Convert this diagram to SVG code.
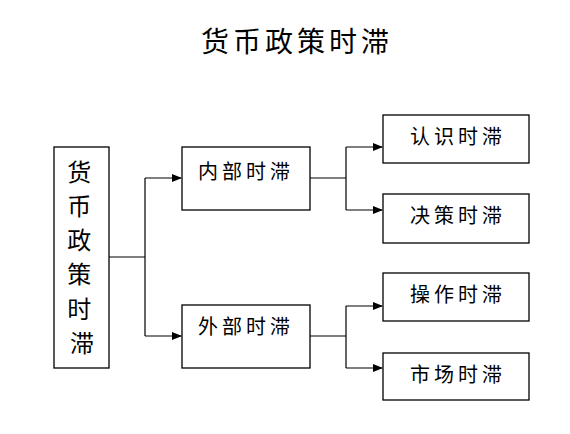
<svg xmlns="http://www.w3.org/2000/svg" width="570" height="434" viewBox="0 0 570 434">
<style>
.box{fill:#fff;stroke:#000;stroke-width:1.3}
.t{font-family:"Noto Sans CJK SC","Noto Sans CJK JP",sans-serif;fill:#000}
.lbl{font-size:20px;letter-spacing:4px}
.ln{fill:none;stroke:#000;stroke-width:1.2}
</style>
<defs>
<marker id="ah" markerWidth="10" markerHeight="8" refX="9" refY="4" orient="auto" markerUnits="userSpaceOnUse">
<path d="M0,0 L10,4 L0,8 z" fill="#000"/>
</marker>
</defs>
<rect width="570" height="434" fill="#fff"/>
<text class="t" x="297" y="52" font-size="28" text-anchor="middle" letter-spacing="4">货币政策时滞</text>
<g id="connectors">
<path class="ln" d="M109,257 H145 M145,178 V336"/>
<path class="ln" d="M145,178 H181" marker-end="url(#ah)"/>
<path class="ln" d="M145,336 H181" marker-end="url(#ah)"/>
<path class="ln" d="M310,178 H346 M346,147 V210"/>
<path class="ln" d="M346,147 H382" marker-end="url(#ah)"/>
<path class="ln" d="M346,210 H382" marker-end="url(#ah)"/>
<path class="ln" d="M310,336 H346 M346,306 V368"/>
<path class="ln" d="M346,306 H382" marker-end="url(#ah)"/>
<path class="ln" d="M346,368 H382" marker-end="url(#ah)"/>
</g>
<g id="root">
<rect class="box" x="54" y="147" width="55" height="221"/>
<text class="t" font-size="24" text-anchor="middle">
<tspan x="82" y="181">货</tspan>
<tspan x="82" y="215">币</tspan>
<tspan x="82" y="249">政</tspan>
<tspan x="82" y="283">策</tspan>
<tspan x="82" y="318">时</tspan>
<tspan x="82" y="352">滞</tspan>
</text>
</g>
<g id="internal">
<rect class="box" x="182" y="147" width="128" height="63"/>
<text class="t lbl" x="198" y="179">内部时滞</text>
</g>
<g id="external">
<rect class="box" x="182" y="305" width="128" height="63"/>
<text class="t lbl" x="198" y="334">外部时滞</text>
</g>
<g id="recognition">
<rect class="box" x="383" y="115" width="146" height="48"/>
<text class="t lbl" x="458" y="144" text-anchor="middle">认识时滞</text>
</g>
<g id="decision">
<rect class="box" x="383" y="194" width="146" height="49"/>
<text class="t lbl" x="458" y="223" text-anchor="middle">决策时滞</text>
</g>
<g id="operation">
<rect class="box" x="383" y="273" width="146" height="48"/>
<text class="t lbl" x="458" y="302" text-anchor="middle">操作时滞</text>
</g>
<g id="market">
<rect class="box" x="383" y="353" width="146" height="47"/>
<text class="t lbl" x="458" y="382" text-anchor="middle">市场时滞</text>
</g>
</svg>
